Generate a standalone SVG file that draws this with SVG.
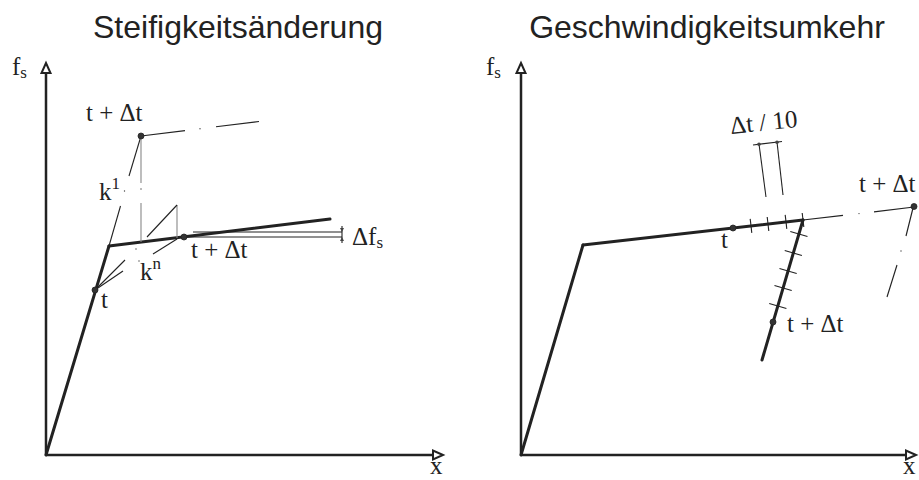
<svg xmlns="http://www.w3.org/2000/svg" width="919" height="480" viewBox="0 0 919 480">
<style>
.title{font-family:"Liberation Sans",Arial,sans-serif;font-size:32px;fill:#222;}
.lbl{font-family:"Liberation Serif","Times New Roman",serif;font-size:25px;fill:#222;}
.sub{font-size:17px;}
.axis{stroke:#222;stroke-width:2.5;fill:none;}
.thick{stroke:#222;stroke-width:3;fill:none;stroke-linecap:round;}
.thin{stroke:#222;stroke-width:1.1;fill:none;}
.gray{stroke:#888;stroke-width:1.1;fill:none;}
.arrow{fill:#fff;stroke:#222;stroke-width:2;stroke-linejoin:miter;}
.pt{fill:#333;stroke:#222;stroke-width:0.8;}
.dot{fill:#444;}
</style>
<rect width="919" height="480" fill="#fff"/>
<text class="title" x="238" y="38" text-anchor="middle">Steifigkeitsänderung</text>
<text class="title" x="707" y="38" text-anchor="middle">Geschwindigkeitsumkehr</text>

<g id="left-axes">
<line class="axis" x1="46" y1="455" x2="46" y2="70"/>
<polygon class="arrow" points="46,63 41.5,73 50.5,73"/>
<line class="axis" x1="46" y1="455" x2="436" y2="455"/>
<polygon class="arrow" points="443,455 433,450.5 433,459.5"/>
<text class="lbl" x="12" y="75">f<tspan class="sub" dy="3">s</tspan></text>
<text class="lbl" x="430" y="474">x</text>
</g>

<g id="left-connectors">
<line class="thick" x1="46" y1="455" x2="109" y2="246"/>
<line class="thick" x1="109" y1="246" x2="330" y2="219"/>
<line class="thin" x1="109" y1="246" x2="120.5" y2="206"/>
<circle class="dot" cx="124.5" cy="191" r="0.7"/>
<line class="thin" x1="129" y1="176" x2="141" y2="136"/>
<line class="gray" x1="141" y1="136" x2="141" y2="183"/>
<circle class="dot" cx="141" cy="189" r="0.7"/>
<line class="gray" x1="141" y1="203" x2="141" y2="242"/>
<line class="thin" x1="141" y1="136" x2="185" y2="130.6"/>
<circle class="dot" cx="200" cy="128.7" r="0.7"/>
<line class="thin" x1="216" y1="126.7" x2="259" y2="121.5"/>
<line class="gray" x1="177" y1="205" x2="177" y2="238"/>
<line class="thin" x1="95" y1="290" x2="125" y2="260"/>
<circle class="dot" cx="136" cy="249" r="0.7"/>
<line class="thin" x1="147" y1="237" x2="177" y2="205"/>
<line class="thin" x1="95" y1="290" x2="123" y2="271"/>
<circle class="dot" cx="139" cy="261" r="0.7"/>
<line class="thin" x1="153" y1="254" x2="177" y2="239"/>
<line class="thin" x1="193" y1="232" x2="342" y2="232"/>
<line class="thin" x1="184" y1="237" x2="342" y2="237"/>
<line class="thin" x1="342" y1="226" x2="342" y2="243"/>
<polygon class="dot" points="342,232 340,228 344,228"/>
<polygon class="dot" points="342,237 340,241 344,241"/>
</g>

<g id="left-points">
<circle class="pt" cx="95" cy="290" r="3"/>
<circle class="pt" cx="184" cy="237" r="3"/>
<circle class="pt" cx="141" cy="136" r="3"/>
</g>
<g id="left-labels">
<text class="lbl" x="86" y="121">t + Δt</text>
<text class="lbl" x="99" y="200">k<tspan class="sub" dy="-11">1</tspan></text>
<text class="lbl" x="140" y="280">k<tspan class="sub" dy="-11">n</tspan></text>
<text class="lbl" x="101" y="308">t</text>
<text class="lbl" x="191" y="258">t + Δt</text>
<text class="lbl" x="352" y="245">Δf<tspan class="sub" dy="3">s</tspan></text>
</g>

<g id="right-axes">
<line class="axis" x1="521" y1="455" x2="521" y2="70"/>
<polygon class="arrow" points="521,63 516.5,73 525.5,73"/>
<line class="axis" x1="521" y1="455" x2="909" y2="455"/>
<polygon class="arrow" points="916,455 906,450.5 906,459.5"/>
<text class="lbl" x="486" y="75">f<tspan class="sub" dy="3">s</tspan></text>
<text class="lbl" x="903" y="474">x</text>
</g>

<g id="right-connectors">
<line class="thick" x1="521" y1="455" x2="583" y2="245"/>
<line class="thick" x1="583" y1="245" x2="803" y2="220"/>
<line class="thick" x1="803" y1="220" x2="762" y2="360"/>
<line class="thin" x1="803" y1="220" x2="843" y2="215.4"/>
<circle class="dot" cx="859" cy="213.6" r="0.7"/>
<line class="thin" x1="874" y1="211.9" x2="914" y2="207"/>
<line class="thin" x1="913" y1="208" x2="906" y2="236"/>
<circle class="dot" cx="901" cy="251" r="0.7"/>
<line class="thin" x1="897" y1="265" x2="887" y2="297"/>
<line class="thin" x1="750.2" y1="218.9" x2="751.8" y2="232.9"/>
<line class="thin" x1="767.2" y1="217" x2="768.8" y2="231"/>
<line class="thin" x1="785.2" y1="214.9" x2="786.8" y2="228.9"/>
<line class="thin" x1="802.2" y1="213" x2="803.8" y2="227"/>
<line class="thin" x1="790.3" y1="231.5" x2="807.5" y2="236.5"/>
<line class="thin" x1="784.7" y1="250.5" x2="801.9" y2="255.5"/>
<line class="thin" x1="779.5" y1="268.5" x2="796.7" y2="273.5"/>
<line class="thin" x1="774.5" y1="285.5" x2="791.7" y2="290.5"/>
<line class="thin" x1="769.2" y1="303.5" x2="786.4" y2="308.5"/>
<line class="thin" x1="759" y1="144" x2="766" y2="197"/>
<line class="thin" x1="777" y1="142" x2="783" y2="195"/>
<line class="thin" x1="753" y1="145" x2="782" y2="141.5"/>
<circle class="dot" cx="759" cy="144.3" r="1.8"/>
<circle class="dot" cx="777" cy="142.2" r="1.8"/>
</g>

<g id="right-points">
<circle class="pt" cx="733" cy="228" r="3"/>
<circle class="pt" cx="773" cy="322" r="3"/>
<circle class="pt" cx="914" cy="206.5" r="3"/>
</g>
<g id="right-labels">
<text class="lbl" x="731" y="134" transform="rotate(-6 731 134)">Δt / 10</text>
<text class="lbl" x="859" y="192">t + Δt</text>
<text class="lbl" x="721" y="248">t</text>
<text class="lbl" x="787" y="332">t + Δt</text>
</g>
</svg>
